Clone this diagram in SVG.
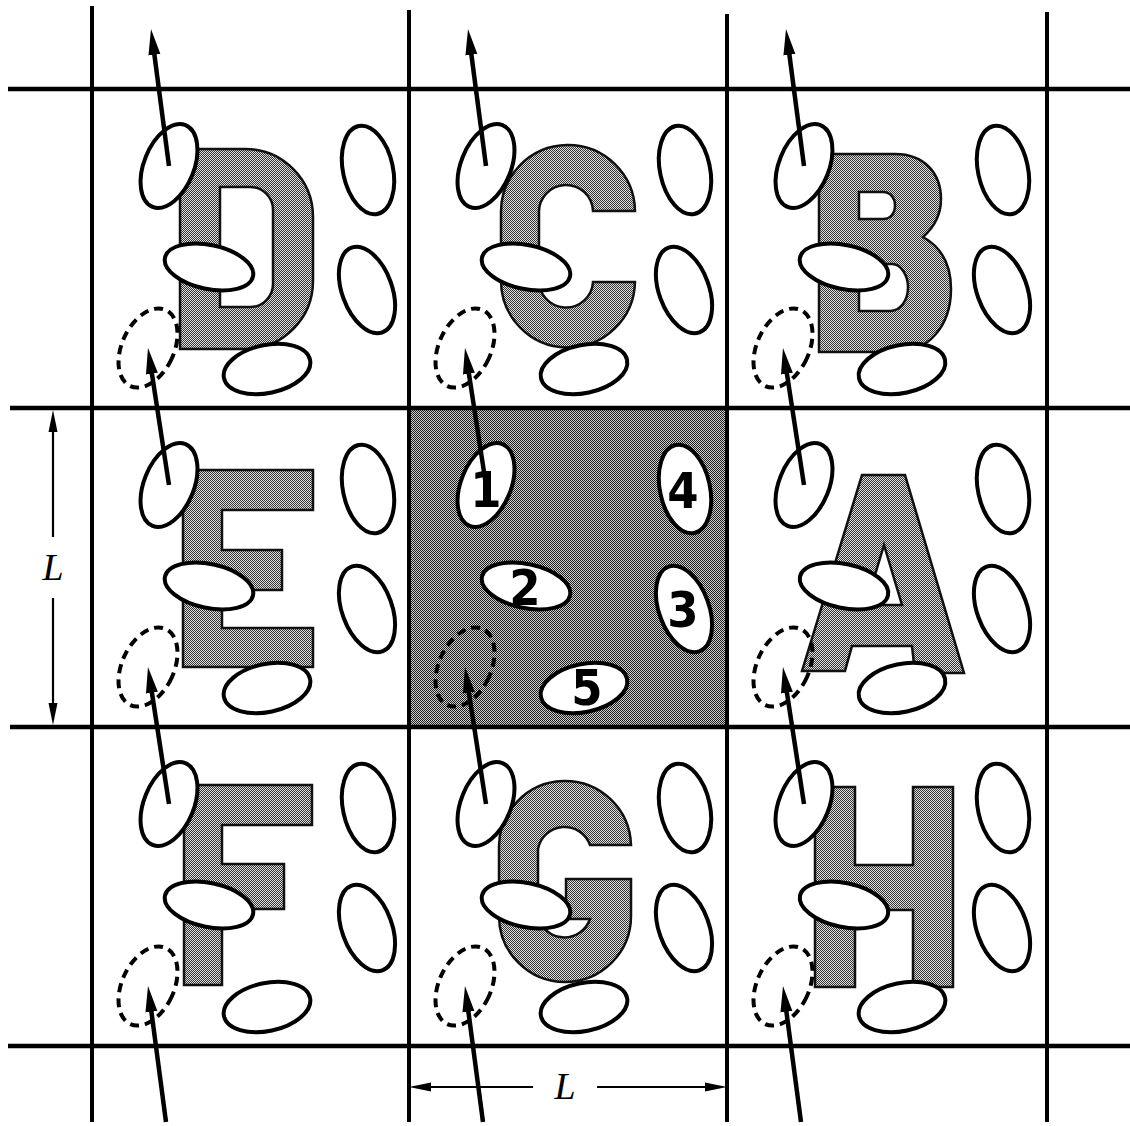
<svg xmlns="http://www.w3.org/2000/svg" width="1130" height="1126" viewBox="0 0 1130 1126">
<style>
.hline{stroke:#000;stroke-width:4.5;fill:none}
.vline{stroke:#000;stroke-width:4;fill:none}
.letter{fill:url(#tone);stroke:#111;stroke-width:2.5;fill-rule:evenodd}
.ell{fill:#fff;stroke:#000;stroke-width:4}
.dash{fill:none;stroke:#000;stroke-width:4;stroke-dasharray:9 6}
.arrow{stroke:#000;stroke-width:4.5;fill:none;marker-end:url(#ah)}
.dim{stroke:#000;stroke-width:2.2;fill:none;marker-end:url(#dh)}
.num{font-family:"Liberation Sans Narrow","DejaVu Sans Condensed","Liberation Sans",sans-serif;font-size:50px;font-weight:bold;text-anchor:middle;fill:#000}
.lbl{font-family:"Liberation Serif",serif;font-style:italic;font-size:38px;text-anchor:middle;fill:#000}
</style>
<defs>
<pattern id="tone" width="2" height="2" patternUnits="userSpaceOnUse">
<rect width="2" height="2" fill="#e0e0e0"/>
<rect width="1" height="1" fill="#333"/>
<rect x="1" y="1" width="1" height="1" fill="#333"/>
</pattern>
<pattern id="toneDark" width="2" height="2" patternUnits="userSpaceOnUse">
<rect width="2" height="2" fill="#cfcfcf"/>
<rect width="1" height="1" fill="#1e1e1e"/>
<rect x="1" y="1" width="1" height="1" fill="#1e1e1e"/>
</pattern>
<marker id="ah" markerUnits="userSpaceOnUse" markerWidth="30" markerHeight="14" refX="10" refY="0" viewBox="0 -7 30 14" orient="auto">
<path d="M0,-6 L26,0 L0,6 Z" fill="#000"/>
</marker>
<marker id="dh" markerUnits="userSpaceOnUse" markerWidth="26" markerHeight="12" refX="8" refY="0" viewBox="0 -6 26 12" orient="auto">
<path d="M0,-4.5 L22,0 L0,4.5 Z" fill="#000"/>
</marker>
<g id="ells">
<ellipse class="ell" cx="77" cy="77" rx="25" ry="44" transform="rotate(22 77 77)"/>
<ellipse class="ell" cx="117" cy="178" rx="45" ry="22" transform="rotate(12 117 178)"/>
<ellipse class="ell" cx="275" cy="201" rx="25" ry="45" transform="rotate(-20 275 201)"/>
<ellipse class="ell" cx="276" cy="81" rx="25" ry="45" transform="rotate(-12 276 81)"/>
<ellipse class="ell" cx="175" cy="280" rx="44" ry="24" transform="rotate(-12 175 280)"/>
<ellipse class="dash" cx="56" cy="259" rx="26" ry="42" transform="rotate(25 56 259)"/>
</g>
</defs>
<rect width="1130" height="1126" fill="#fff"/>

<g id="cell-D" transform="translate(92 89)">
<path class="letter" d="M88,60 H153 A68,68 0 0 1 221,128 V192 A68,68 0 0 1 153,260 H88 Z M128,98 V218 H158 A23,23 0 0 0 181,195 V121 A23,23 0 0 0 158,98 Z"/>
<use href="#ells"/>
</g>
<g id="cell-C" transform="translate(409 89)">
<path class="letter" d="M226,122 A67,67 0 0 0 92,124 V190 A67,67 0 0 0 226,193 H184 A27,27 0 0 1 130,190 V124 A27,27 0 0 1 184,122 Z"/>
<use href="#ells"/>
</g>
<g id="cell-B" transform="translate(727 89)">
<path class="letter" d="M92,65 H168 C198,65 214,85 214,110 C214,128 205,140 196,148 C214,158 224,175 224,200 C224,238 200,263 170,263 H92 Z M132,103 H156 C164,103 168,110 168,116 C168,124 164,130 156,130 H132 Z M132,175 H165 C175,175 181,188 181,198 C181,212 173,222 163,222 H132 Z"/>
<use href="#ells"/>
</g>
<g id="cell-E" transform="translate(92 408)">
<path class="letter" d="M91,62 H221 V102 H130 V142 H190 V182 H130 V220 H221 V259 H91 Z"/>
<use href="#ells"/>
</g>
<g id="cell-center">
<rect x="409" y="408" width="318" height="319" fill="url(#toneDark)"/>
<use href="#ells" transform="translate(409 408)"/>
<text class="num" x="486" y="507">1</text>
<text class="num" x="525" y="605">2</text>
<text class="num" x="683" y="627">3</text>
<text class="num" x="683" y="508">4</text>
<text class="num" x="587" y="705">5</text>
</g>
<g id="cell-A" transform="translate(727 408)">
<path class="letter" d="M135,67 H178 L237,265 H188 L185,238 H125 L118,263 H75 Z M157,137 L175,197 H139 Z"/>
<use href="#ells"/>
</g>
<g id="cell-F" transform="translate(92 727)">
<path class="letter" d="M92,58 H220 V98 H130 V137 H192 V182 H130 V258 H92 Z"/>
<use href="#ells"/>
</g>
<g id="cell-G" transform="translate(409 727)">
<path class="letter" d="M222,118 A66,66 0 0 0 90,122 V189 A66,66 0 0 0 222,189 V152 H157 V192 H181 A27,27 0 0 1 129,189 V122 A27,27 0 0 1 181,118 Z"/>
<use href="#ells"/>
</g>
<g id="cell-H" transform="translate(727 727)">
<path class="letter" d="M88,60 H128 V138 H186 V60 H226 V260 H186 V183 H128 V260 H88 Z"/>
<use href="#ells"/>
</g>

<g id="grid">
<line class="hline" x1="8" y1="89" x2="1130" y2="89"/>
<line class="hline" x1="10" y1="408" x2="1130" y2="408"/>
<line class="hline" x1="10" y1="727" x2="1130" y2="727"/>
<line class="hline" x1="8" y1="1046" x2="1130" y2="1046"/>
<line class="vline" x1="92" y1="6" x2="92" y2="1122"/>
<line class="vline" x1="409" y1="10" x2="409" y2="1122"/>
<line class="vline" x1="727" y1="14" x2="727" y2="1122"/>
<line class="vline" x1="1047" y1="12" x2="1047" y2="1122"/>
</g>

<g id="connectors">
<line class="arrow" x1="169" y1="166" x2="153.1" y2="44.9"/>
<line class="arrow" x1="486" y1="166" x2="470.1" y2="44.9"/>
<line class="arrow" x1="804" y1="166" x2="788.1" y2="44.9"/>
<line class="arrow" x1="169" y1="485" x2="150.4" y2="363.8"/>
<line class="arrow" x1="486" y1="485" x2="467.4" y2="363.8"/>
<line class="arrow" x1="804" y1="485" x2="785.4" y2="363.8"/>
<line class="arrow" x1="169" y1="804" x2="150.4" y2="682.8"/>
<line class="arrow" x1="486" y1="804" x2="467.4" y2="682.8"/>
<line class="arrow" x1="804" y1="804" x2="785.4" y2="682.8"/>
<line class="arrow" x1="166" y1="1122" x2="150.1" y2="1001.9"/>
<line class="arrow" x1="483" y1="1122" x2="467.1" y2="1001.9"/>
<line class="arrow" x1="801" y1="1122" x2="785.1" y2="1001.9"/>
</g>

<g id="dimensions">
<line class="dim" x1="53" y1="537" x2="53" y2="424"/>
<line class="dim" x1="53" y1="598" x2="53" y2="711"/>
<text class="lbl" x="53" y="580">L</text>
<line class="dim" x1="533" y1="1087" x2="423" y2="1087"/>
<line class="dim" x1="597" y1="1087" x2="713" y2="1087"/>
<text class="lbl" x="565" y="1099">L</text>
</g>
</svg>
